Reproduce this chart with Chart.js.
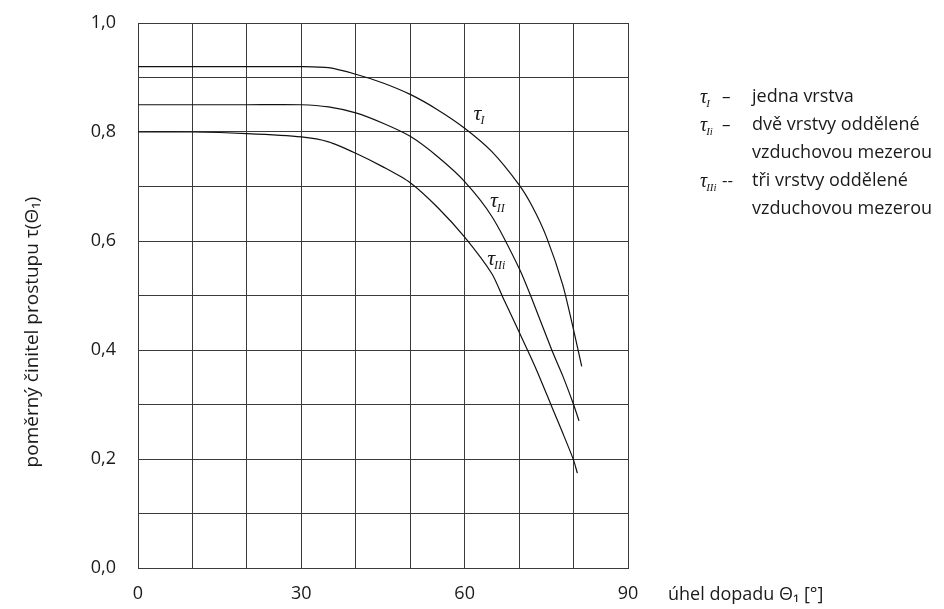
<!DOCTYPE html>
<html>
<head>
<meta charset="utf-8">
<script src="https://cdn.jsdelivr.net/npm/chart.js@4"></script>
<style>
html,body{margin:0;padding:0;background:#fff;}
#wrap{width:944px;height:609px;position:relative;}
</style>
</head>
<body>
<div id="wrap"><canvas id="c" width="944" height="609"></canvas></div>
<script>
// ---- data ----
const anglesI   = [0,10,20,30,35,40,45,50,55,60,65,70,72.5,75,78,80,81.5];
const tauI      = [0.92,0.92,0.92,0.92,0.918,0.906,0.89,0.869,0.841,0.807,0.764,0.703,0.662,0.608,0.52,0.437,0.37];
const anglesII  = [0,10,20,30,35,40,45,50,55,60,65,70,72.5,76,78,80,81];
const tauII     = [0.85,0.85,0.85,0.85,0.846,0.835,0.816,0.792,0.755,0.709,0.645,0.55,0.49,0.40,0.353,0.30,0.27];
const anglesIII = [0,10,20,30,35,40,45,50,55,60,65,67,70,73,76,78,80,80.7];
const tauIII    = [0.80,0.80,0.797,0.791,0.782,0.761,0.736,0.707,0.662,0.607,0.54,0.497,0.433,0.368,0.296,0.248,0.198,0.174];

const xTickLabels = ['0','30','60','90'];
const yTickLabels = ['0,0','0,2','0,4','0,6','0,8','1,0'];

const curveLabelSubs = ['I','II','IIi'];
const curveLabelAngles = [63.1, 66.1, 65.6];
const curveLabelValues = [0.833, 0.673, 0.567];

const legendSubs = ['I','Ii','IIi'];
const legendDashes = ['–','–','--'];
const legendLines = [['jedna vrstva'],['dvě vrstvy oddělené','vzduchovou mezerou'],['tři vrstvy oddělené','vzduchovou mezerou']];

const yTitle = 'poměrný činitel prostupu τ(Θ₁)';
const xTitle = 'úhel dopadu Θ₁ [°]';

const FONT = '"Open Sans", sans-serif';
const TXT = '#1a1a1a';

function toPts(xs, ys){ return xs.map((x,i)=>({x:x,y:ys[i]})); }

function drawTau(ctx, x, y, sub, size){
  ctx.save();
  ctx.fillStyle = TXT;
  ctx.textBaseline = 'alphabetic';
  ctx.textAlign = 'left';
  ctx.font = 'italic ' + size + 'px "Liberation Serif", serif';
  ctx.fillText('τ', x, y);
  const w = ctx.measureText('τ').width;
  ctx.font = 'italic ' + Math.round(size*0.55) + 'px "Liberation Serif", serif';
  ctx.fillText(sub, x + w - 1, y + size*0.2);
  ctx.restore();
}

const annot = {
  id:'annot',
  afterDraw(chart){
    const ctx = chart.ctx;
    const xs = chart.scales.x, ys = chart.scales.y;
    // curve labels
    for(let i=0;i<curveLabelSubs.length;i++){
      const px = xs.getPixelForValue(curveLabelAngles[i]);
      const py = ys.getPixelForValue(curveLabelValues[i]);
      drawTau(ctx, px-8, py+6, curveLabelSubs[i], 22);
    }
    // legend
    ctx.save();
    let y = 97;
    for(let i=0;i<legendSubs.length;i++){
      drawTau(ctx, 700, y+6, legendSubs[i], 20);
      ctx.fillStyle = TXT;
      ctx.font = '17px ' + FONT;
      ctx.textBaseline = 'middle';
      ctx.textAlign = 'left';
      ctx.fillText(legendDashes[i], 722, y);
      for(const line of legendLines[i]){
        ctx.font = '18px ' + FONT;
        ctx.fillText(line, 752, y);
        y += 28;
      }
    }
    // x title
    ctx.font = '18px ' + FONT;
    ctx.textBaseline = 'middle';
    ctx.fillText(xTitle, 668, 595);
    // y title
    ctx.translate(33, 332);
    ctx.rotate(-Math.PI/2);
    ctx.textAlign = 'center';
    ctx.font = '19px ' + FONT;
    ctx.fillText(yTitle, 0, 0);
    ctx.restore();
  }
};

const bg = {
  id:'bg',
  beforeDraw(chart){
    const ctx = chart.ctx;
    ctx.save(); ctx.fillStyle='#fff'; ctx.fillRect(0,0,chart.width,chart.height); ctx.restore();
  }
};

const lineStyle = {borderColor:'#111', borderWidth:1.2, pointRadius:0, fill:false, tension:0.25};

new Chart(document.getElementById('c'), {
  type:'line',
  data:{
    datasets:[
      Object.assign({label:'τI', data:toPts(anglesI,tauI)}, lineStyle),
      Object.assign({label:'τII', data:toPts(anglesII,tauII)}, lineStyle),
      Object.assign({label:'τIII', data:toPts(anglesIII,tauIII)}, lineStyle)
    ]
  },
  options:{
    responsive:false,
    animation:false,
    events:[],
    layout:{padding:{left:0,top:23,right:316,bottom:0}},
    plugins:{legend:{display:false}, tooltip:{enabled:false}},
    scales:{
      x:{
        type:'linear', min:0, max:90,
        afterFit(s){ s.height = 41; s.paddingLeft = 0; s.paddingRight = 0; },
        ticks:{stepSize:10, padding:15, color:TXT, font:{family:FONT,size:18},
          maxRotation:0, autoSkip:false,
          callback(v){ const i = xTickLabels.indexOf(String(v)); return i>=0 ? xTickLabels[i] : ''; }},
        grid:{color:'#3a3a3a', lineWidth:1, drawTicks:false},
        border:{display:true, color:'#3a3a3a', width:1}
      },
      y:{
        type:'linear', min:0, max:1,
        afterFit(s){ s.width = 138; s.paddingTop = 0; s.paddingBottom = 0; },
        ticks:{stepSize:0.1, padding:22, color:TXT, font:{family:FONT,size:18}, autoSkip:false,
          callback(v){ const k = Math.round(v*10); return (k%2===0) ? yTickLabels[k/2] : ''; }},
        grid:{color:'#3a3a3a', lineWidth:1, drawTicks:false},
        border:{display:true, color:'#3a3a3a', width:1}
      }
    }
  },
  plugins:[bg, annot]
});
</script>
</body>
</html>
